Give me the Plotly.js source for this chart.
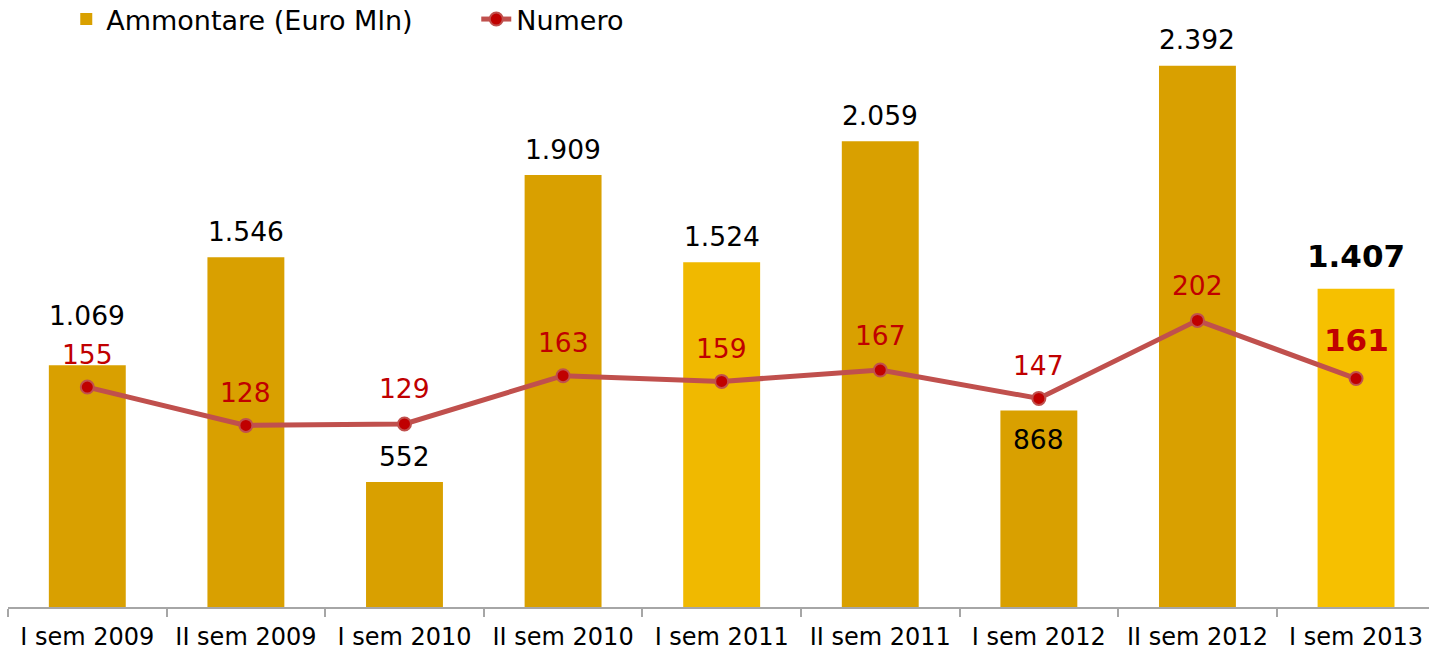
<!DOCTYPE html>
<html>
<head>
<meta charset="utf-8">
<script src="https://cdn.plot.ly/plotly-3.0.1.min.js"></script>
<style>html,body{margin:0;padding:0;background:#fff;}#chart{width:1429px;height:651px;}</style>
</head>
<body>
<div id="chart"></div>
<script>
// ---- data ----
const categories = ["I sem 2009","II sem 2009","I sem 2010","II sem 2010","I sem 2011","II sem 2011","I sem 2012","II sem 2012","I sem 2013"];
const ammontare = [1069, 1546, 552, 1909, 1524, 2059, 868, 2392, 1407];
const ammontareLabels = ["1.069","1.546","552","1.909","1.524","2.059","868","2.392","1.407"];
const numero = [155, 128, 129, 163, 159, 167, 147, 202, 161];
const numeroLabels = ["155","128","129","163","159","167","147","202","161"];

// ---- styles ----
const barColors = ["#D9A000","#D9A000","#D9A000","#D9A000","#F0B900","#D9A000","#D9A000","#D9A000","#F6C000"];
const barLabelShift = [50, 26, 26, 26, 26, 26, -29, 26, 33];
const lineLabelShift = [33, 33, 35, 33, 33, 35, 33, 35, 39];
const FONT = "DejaVu Sans, Verdana, sans-serif";

const traces = [
  {
    type: "bar", name: "Ammontare (Euro Mln)",
    x: categories, y: ammontare,
    marker: {color: barColors, line: {width: 0}},
    width: 0.485, hoverinfo: "skip"
  },
  {
    type: "scatter", mode: "lines+markers", name: "Numero",
    x: categories, y: numero, yaxis: "y2",
    line: {color: "#C0504D", width: 5},
    marker: {color: "#C00000", size: 13, line: {color: "#C0504D", width: 2}},
    hoverinfo: "skip"
  }
];

const annotations = [];
categories.forEach((c, i) => {
  const last = i === categories.length - 1;
  annotations.push({
    x: c, y: ammontare[i], xref: "x", yref: "y",
    text: last ? "<b>" + ammontareLabels[i] + "</b>" : ammontareLabels[i],
    showarrow: false, yanchor: "middle", yshift: barLabelShift[i],
    font: {family: FONT, size: last ? 31 : 26.5, color: "#000"}
  });
  annotations.push({
    x: c, y: numero[i], xref: "x", yref: "y2",
    text: last ? "<b>" + numeroLabels[i] + "</b>" : numeroLabels[i],
    showarrow: false, yanchor: "middle", yshift: lineLabelShift[i],
    font: {family: FONT, size: last ? 31 : 26.5, color: "#C00000"}
  });
});

const layout = {
  width: 1429, height: 651,
  margin: {l: 8, r: 0, t: 0, b: 44},
  paper_bgcolor: "#fff", plot_bgcolor: "#fff",
  font: {family: FONT, color: "#000"},
  showlegend: true,
  legend: {
    orientation: "h", x: 0.041, y: 1, xanchor: "left", yanchor: "top",
    font: {family: FONT, size: 27, color: "#000"},
    entrywidth: 365, tracegroupgap: 0,
    bgcolor: "rgba(0,0,0,0)", traceorder: "normal"
  },
  xaxis: {
    type: "category", range: [-0.5, 8.46],
    showline: true, linecolor: "#A6A6A6", linewidth: 2,
    ticks: "outside", tickson: "boundaries", ticklen: 8, tickcolor: "#A6A6A6", tickwidth: 2,
    tickfont: {family: FONT, size: 24, color: "#000"},
    ticklabelstandoff: 7, automargin: false,
    showgrid: false, zeroline: false, fixedrange: true
  },
  yaxis: {range: [0, 2683], visible: false, showgrid: false, zeroline: false, fixedrange: true},
  yaxis2: {range: [0, 427.8], overlaying: "y", side: "right", visible: false, showgrid: false, zeroline: false, fixedrange: true},
  annotations: annotations,
  bargap: 0.515
};

Plotly.newPlot("chart", traces, layout, {displayModeBar: false, staticPlot: true}).then(gd => {
  // nudge legend group up slightly to match reference position
  const lg = gd.querySelector(".legend");
  if (lg) {
    const t = lg.getAttribute("transform") || "";
    const m = t.match(/translate\(([-\d.]+),\s*([-\d.]+)\)/);
    if (m) lg.setAttribute("transform", "translate(" + m[1] + "," + (parseFloat(m[2]) - 5) + ")");
  }
});
</script>
</body>
</html>
